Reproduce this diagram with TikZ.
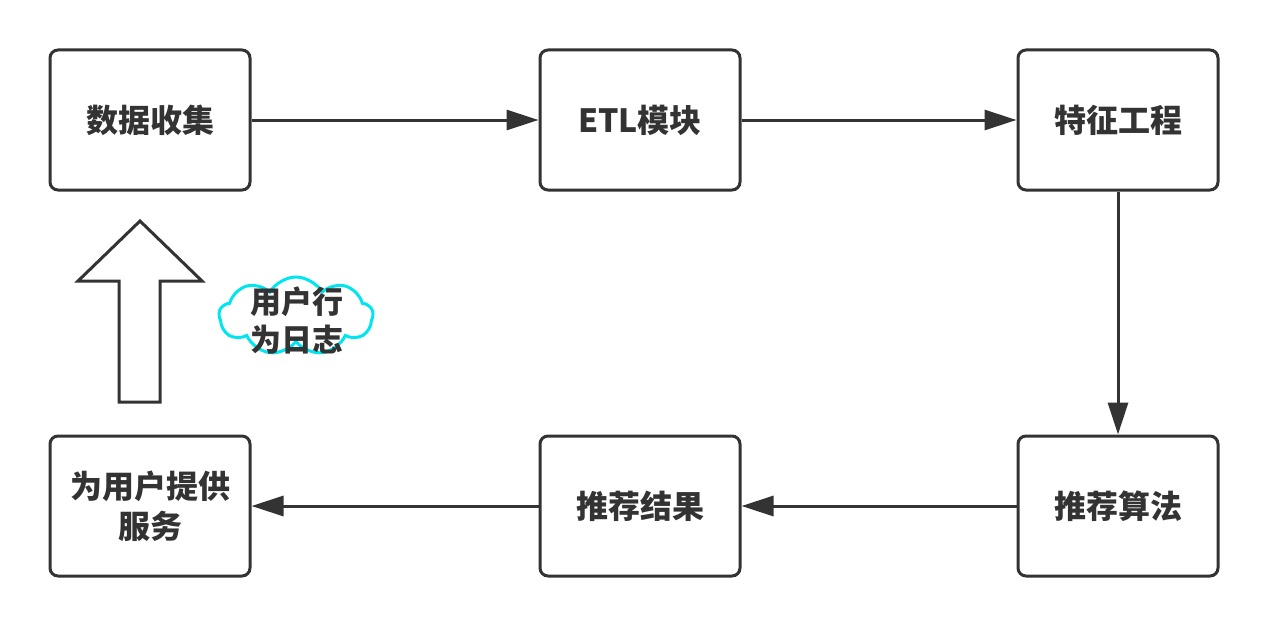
\documentclass[tikz,border=0pt]{standalone}
\usepackage{fontspec}
\setmainfont{Noto Sans CJK SC}
\usetikzlibrary{arrows.meta,shapes.symbols}
\definecolor{ink}{HTML}{333333}
\definecolor{cloudline}{HTML}{00E5F0}
\begin{document}
\begin{tikzpicture}[x=1pt,y=-1pt,
  stepbox/.style={draw=ink,line width=3pt,rounded corners=8pt,minimum width=200pt,minimum height=140pt,
    inner sep=0pt,align=center,text=ink,font=\fontsize{32}{40}\selectfont\bfseries},
  flow/.style={draw=ink,line width=3pt,-{Triangle[length=32pt,width=20pt]}}]
\useasboundingbox (0,0) rectangle (1268,626);
% process boxes
\node[stepbox] (collect) at (150,120) {数据收集};
\node[stepbox] (etl) at (640,120) {ETL模块};
\node[stepbox] (feat) at (1118,120) {特征工程};
\node[stepbox] (algo) at (1118,506) {推荐算法};
\node[stepbox] (result) at (640,506) {推荐结果};
\node[stepbox] (serve) at (150,506) {为用户提供\\服务};
% connectors
\draw[flow] (collect) -- (etl);
\draw[flow] (etl) -- (feat);
\draw[flow] (feat) -- (algo);
\draw[flow] (algo) -- (result);
\draw[flow] (result) -- (serve);
% hollow feedback arrow
\draw[ink,line width=3pt,line join=miter,fill=white]
  (140,221) -- (202,281) -- (160,281) -- (160,402) -- (119,402) -- (119,281) -- (78,281) -- cycle;
% cloud label
\node[cloud,cloud puffs=9,cloud puff arc=120,draw=cloudline,line width=3pt,
  minimum width=154pt,minimum height=78pt,aspect=2] (log) at (296,316) {};
\node[text=ink,align=center,font=\fontsize{31}{38}\selectfont\bfseries] (logtext) at (297,321) {用户行\\为日志};
\end{tikzpicture}
\end{document}
